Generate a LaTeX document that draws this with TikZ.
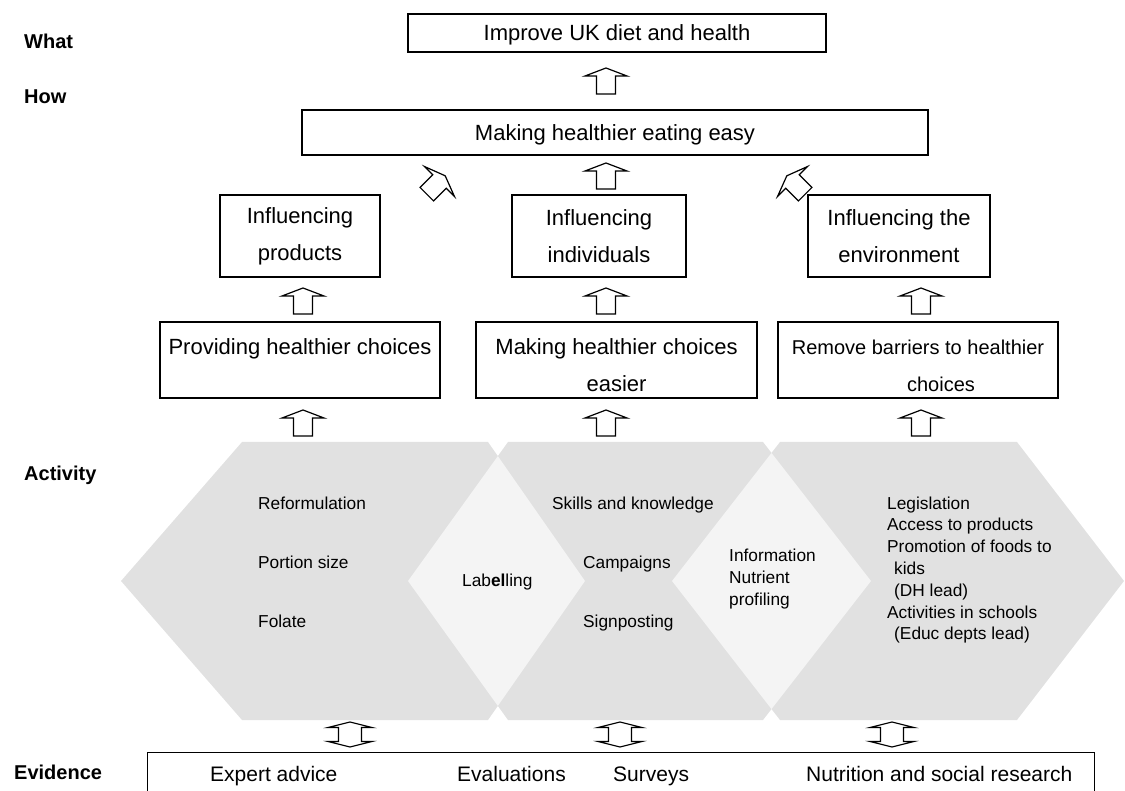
\documentclass[tikz,border=0pt]{standalone}
\usepackage{fontspec}
\setmainfont{Liberation Sans}
\usetikzlibrary{positioning}
\definecolor{hexdark}{HTML}{E1E1E1}
\definecolor{hexlight}{HTML}{F4F4F4}
\newcommand{\lowfirst}{\rule{0pt}{26pt}}% pushes box text down a little

\begin{document}
\begin{tikzpicture}[
  x=1pt, y=-1pt,
  % --- box and text styles ---
  box/.style={rectangle, draw, line width=1.3, inner sep=0, align=center,
    font=\fontsize{22}{37}\selectfont},
  oneline/.style={text height=16, text depth=0},
  rowlbl/.style={anchor=west, inner sep=0, font=\fontsize{20}{22}\selectfont\bfseries},
  acttxt/.style={anchor=base west, inner sep=0, align=left, font=\fontsize{17.3}{21.8}\selectfont},
  evtxt/.style={anchor=base west, inner sep=0, font=\fontsize{21}{25}\selectfont},
  % --- block arrows ---
  blockarr/.style={draw, fill=white, line width=1.2},
  uparr/.pic={\draw[blockarr] (0,-13) -- (21,-5) -- (9.5,-5) -- (9.5,13) -- (-9.5,13)
    -- (-9.5,-5) -- (-21,-5) -- cycle;},
  dblarr/.pic={\draw[blockarr] (0,-12.5) -- (22,-7) -- (11.5,-7) -- (11.5,7) -- (22,7)
    -- (0,12.5) -- (-22,7) -- (-11.5,7) -- (-11.5,-7) -- (-22,-7) -- cycle;}
]
\useasboundingbox (0,0) rectangle (1125,791);
\clip (0,0) rectangle (1125,791);

% ---- ACTIVITY CHEVRONS ----
\fill[hexdark] (121,581) -- (242,442) -- (488,442) -- (585,581) -- (488,720) -- (242,720) -- cycle;
\fill[hexdark] (408,581) -- (508,442) -- (763,442) -- (871,581) -- (763,720) -- (508,720) -- cycle;
\fill[hexdark] (672,581) -- (780,442) -- (1017,442) -- (1124,581) -- (1017,720) -- (780,720) -- cycle;
% overlaps
\begin{scope}
  \clip (121,581) -- (242,442) -- (488,442) -- (585,581) -- (488,720) -- (242,720) -- cycle;
  \fill[hexlight] (408,581) -- (508,442) -- (763,442) -- (871,581) -- (763,720) -- (508,720) -- cycle;
\end{scope}
\begin{scope}
  \clip (408,581) -- (508,442) -- (763,442) -- (871,581) -- (763,720) -- (508,720) -- cycle;
  \fill[hexlight] (672,581) -- (780,442) -- (1017,442) -- (1124,581) -- (1017,720) -- (780,720) -- cycle;
\end{scope}

% ---- ROW LABELS ----
\node[rowlbl] (what) at (24,41) {What};
\node[rowlbl] (how) at (24,97) {How};
\node[rowlbl] (act) at (24,475) {Activity};
\node[rowlbl] (evi) at (14,772) {Evidence};

% ---- BOXES ----
\node[box, oneline, minimum width=418, minimum height=38] (goal) at (617,33) {Improve UK diet and health};
\node[box, oneline, minimum width=626, minimum height=45] (easy) at (615,132.5) {Making healthier eating easy};

\node[box, minimum width=160, minimum height=82] (prod) at (300,236) {Influencing\\products};
\node[box, minimum width=174, minimum height=82] (indiv) at (599,236) {Influencing\\individuals};
\node[box, minimum width=182, minimum height=82] (envir) at (899,236) {Influencing the\\environment};

\node[box, minimum width=280, minimum height=76] (provide) at (300,360) {\lowfirst Providing healthier choices\\~};
\node[box, minimum width=281, minimum height=76] (easier) at (616.5,360) {\lowfirst Making healthier choices\\easier};
\node[box, minimum width=280, minimum height=76, font=\fontsize{20}{37}\selectfont] (barrier) at (918,360)
  {\lowfirst Remove barriers to healthier\\\hspace*{46pt}choices};

% ---- ARROWS ----
\pic at (606,81) {uparr};
\pic at (606,176) {uparr};
\pic[rotate=-45] at (436,185) {uparr};
\pic[rotate=45] at (796,185) {uparr};
\foreach \x in {303,606,921} {
  \pic at (\x,301) {uparr};
  \pic at (\x,423) {uparr};
}
\foreach \x in {350,620,892}
  \pic at (\x,734.5) {dblarr};

% ---- ACTIVITY TEXT ----
\node[acttxt] (reform) at (258,509) {Reformulation};
\node[acttxt] (portion) at (258,568) {Portion size};
\node[acttxt] (folate) at (258,627) {Folate};
\node[acttxt] (label) at (462,586) {Lab\textbf{el}ling};
\node[acttxt] (skills) at (552,509) {Skills and knowledge};
\node[acttxt] (campaign) at (583,568) {Campaigns};
\node[acttxt] (signpost) at (583,627) {Signposting};
\node[acttxt, anchor=west] (info) at (729,579) {Information\\Nutrient\\profiling};
\node[acttxt, anchor=west] (legis) at (887,570) {Legislation\\Access to products\\Promotion of foods to\\
  \hspace*{7pt}kids\\\hspace*{7pt}(DH lead)\\Activities in schools\\\hspace*{7pt}(Educ depts lead)};

% ---- EVIDENCE ----
\node[box, minimum width=947, minimum height=60, anchor=north west] (evbox) at (147,752) {};
\node[evtxt] (expert) at (210,781) {Expert advice};
\node[evtxt] (evals) at (457,781) {Evaluations};
\node[evtxt] (survey) at (613,781) {Surveys};
\node[evtxt] (research) at (806,781) {Nutrition and social research};

\end{tikzpicture}
\end{document}
